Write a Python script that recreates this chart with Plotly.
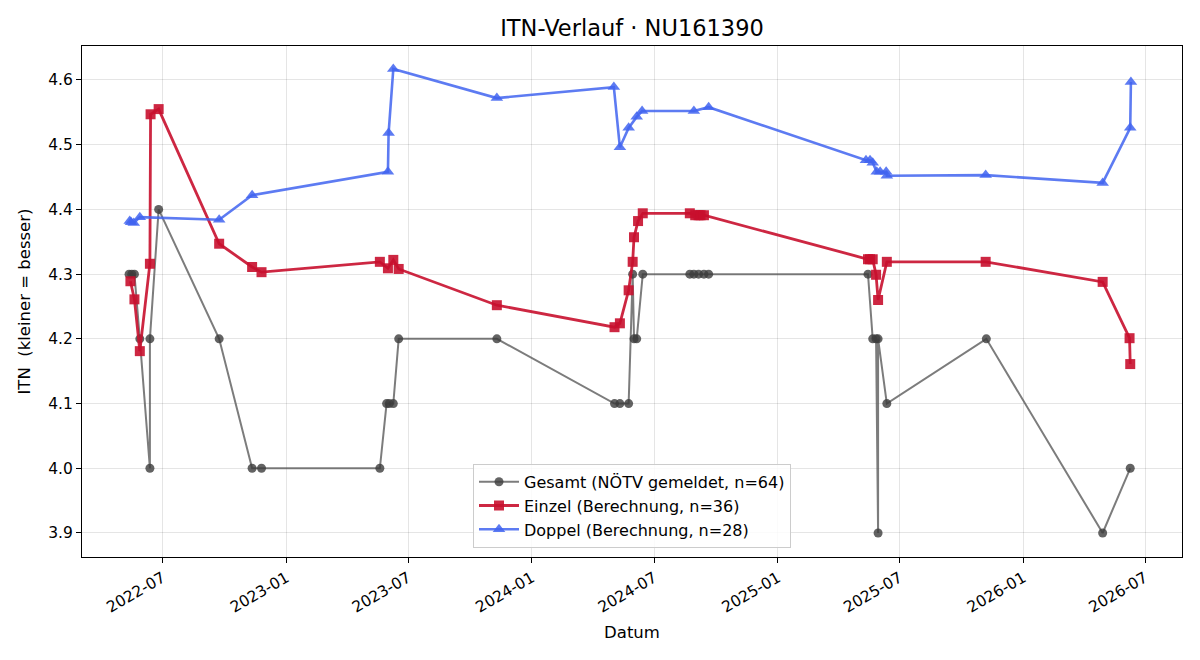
import plotly.graph_objects as go

gesamt_dates = ["2022-05-12", "2022-05-16", "2022-05-20", "2022-05-28", "2022-06-12", "2022-06-12",
                "2022-06-25", "2022-09-23", "2022-11-11", "2022-11-25", "2023-05-20", "2023-05-30",
                "2023-06-03", "2023-06-09", "2023-06-17", "2023-11-10", "2024-05-03", "2024-05-11",
                "2024-05-24", "2024-05-30", "2024-06-01", "2024-06-05", "2024-06-14", "2024-08-23",
                "2024-08-29", "2024-09-05", "2024-09-13", "2024-09-20", "2025-05-15", "2025-05-22",
                "2025-05-27", "2025-05-30", "2025-05-30", "2025-06-12", "2025-11-07", "2026-04-29",
                "2026-06-09"]
gesamt_vals = [4.3, 4.3, 4.3, 4.2, 4.0, 4.2,
               4.4, 4.2, 4.0, 4.0, 4.0, 4.1,
               4.1, 4.1, 4.2, 4.2, 4.1, 4.1,
               4.1, 4.3, 4.2, 4.2, 4.3, 4.3,
               4.3, 4.3, 4.3, 4.3, 4.3, 4.2,
               4.2, 3.9, 4.2, 4.1, 4.2, 3.9,
               4.0]

einzel_dates = ["2022-05-14", "2022-05-20", "2022-05-28", "2022-06-12", "2022-06-13", "2022-06-25",
                "2022-09-23", "2022-11-11", "2022-11-25", "2023-05-20", "2023-06-01", "2023-06-09",
                "2023-06-17", "2023-11-10", "2024-05-03", "2024-05-11", "2024-05-24", "2024-05-30",
                "2024-06-01", "2024-06-07", "2024-06-14", "2024-08-23", "2024-08-31", "2024-09-05",
                "2024-09-08", "2024-09-13", "2025-05-15", "2025-05-18", "2025-05-22", "2025-05-27",
                "2025-05-30", "2025-06-12", "2025-11-06", "2026-04-29", "2026-06-08", "2026-06-09"]
einzel_vals = [4.289, 4.261, 4.181, 4.316, 4.547, 4.555,
               4.347, 4.311, 4.303, 4.319, 4.309, 4.322,
               4.308, 4.252, 4.218, 4.224, 4.275, 4.319,
               4.357, 4.382, 4.394, 4.394, 4.391, 4.391,
               4.391, 4.391, 4.323, 4.323, 4.323, 4.299,
               4.260, 4.319, 4.319, 4.288, 4.201, 4.161]

doppel_dates = ["2022-05-13", "2022-05-15", "2022-05-19", "2022-05-28", "2022-09-23", "2022-11-11",
                "2023-06-01", "2023-06-02", "2023-06-09", "2023-11-10", "2024-05-02", "2024-05-11",
                "2024-05-24", "2024-06-05", "2024-06-13", "2024-08-29", "2024-09-20", "2025-05-12",
                "2025-05-18", "2025-05-22", "2025-05-28", "2025-06-02", "2025-06-11", "2025-06-12",
                "2025-11-06", "2026-04-29", "2026-06-09", "2026-06-10"]
doppel_vals = [4.382, 4.380, 4.379, 4.388, 4.384, 4.422,
               4.458, 4.518, 4.617, 4.572, 4.589, 4.496,
               4.526, 4.543, 4.552, 4.552, 4.558, 4.476,
               4.476, 4.472, 4.458, 4.458, 4.458, 4.452,
               4.453, 4.441, 4.526, 4.597]

tick_vals = ["2022-07-01", "2023-01-01", "2023-07-01", "2024-01-01", "2024-07-01",
             "2025-01-01", "2025-07-01", "2026-01-01", "2026-07-01"]
tick_text = ["2022-07", "2023-01", "2023-07", "2024-01", "2024-07",
             "2025-01", "2025-07", "2026-01", "2026-07"]
y_ticks = [3.9, 4.0, 4.1, 4.2, 4.3, 4.4, 4.5, 4.6]

font = "DejaVu Sans, Liberation Sans, sans-serif"

fig = go.Figure()
fig.add_trace(go.Scatter(
    x=gesamt_dates, y=gesamt_vals, mode="lines+markers",
    name="Gesamt (NÖTV gemeldet, n=64)",
    line=dict(color="rgba(80,80,80,0.75)", width=2),
    marker=dict(symbol="circle", size=9, color="rgba(60,60,60,0.8)",
                line=dict(width=0))))
fig.add_trace(go.Scatter(
    x=einzel_dates, y=einzel_vals, mode="lines+markers",
    name="Einzel (Berechnung, n=36)",
    line=dict(color="rgba(200,16,46,0.9)", width=2.8),
    marker=dict(symbol="square", size=10, color="rgba(200,16,46,0.9)",
                line=dict(width=0))))
fig.add_trace(go.Scatter(
    x=doppel_dates, y=doppel_vals, mode="lines+markers",
    name="Doppel (Berechnung, n=28)",
    line=dict(color="rgba(65,100,240,0.85)", width=2.6),
    marker=dict(symbol="triangle-up", size=11, color="rgba(65,100,240,0.85)",
                line=dict(width=0))))

fig.update_layout(
    width=1200, height=660,
    margin=dict(l=82, r=18, t=46, b=103),
    paper_bgcolor="white", plot_bgcolor="white",
    font=dict(family=font, size=16, color="black"),
    title=dict(text="ITN-Verlauf · NU161390", xref="paper", x=0.5, xanchor="center",
               y=0.957, yanchor="middle", font=dict(size=22.5, family=font)),
    showlegend=True,
    legend=dict(x=0.5, xanchor="center", y=0.018, yanchor="bottom",
                bgcolor="rgba(255,255,255,0.85)", bordercolor="#cccccc",
                borderwidth=1, font=dict(size=16, family=font),
                itemwidth=40, tracegroupgap=0),
    xaxis=dict(
        type="date", range=["2022-03-03", "2026-08-25"],
        tickvals=tick_vals, ticktext=tick_text, tickangle=-30,
        tickfont=dict(size=15.5),
        showgrid=True, gridcolor="rgba(0,0,0,0.1)", gridwidth=1,
        showline=True, linecolor="black", linewidth=1.2, mirror=True,
        ticks="outside", ticklen=5, tickcolor="black",
        title=dict(text="Datum", font=dict(size=16.5), standoff=10),
        zeroline=False),
    yaxis=dict(
        range=[3.8629, 4.6525], tickvals=y_ticks,
        ticktext=[f"{v:.1f}" for v in y_ticks],
        tickfont=dict(size=15.5),
        showgrid=True, gridcolor="rgba(0,0,0,0.1)", gridwidth=1,
        showline=True, linecolor="black", linewidth=1.2, mirror=True,
        ticks="outside", ticklen=5, tickcolor="black",
        title=dict(text="ITN  (kleiner = besser)", font=dict(size=16.5), standoff=13),
        zeroline=False),
)

fig.write_html("out.html")
